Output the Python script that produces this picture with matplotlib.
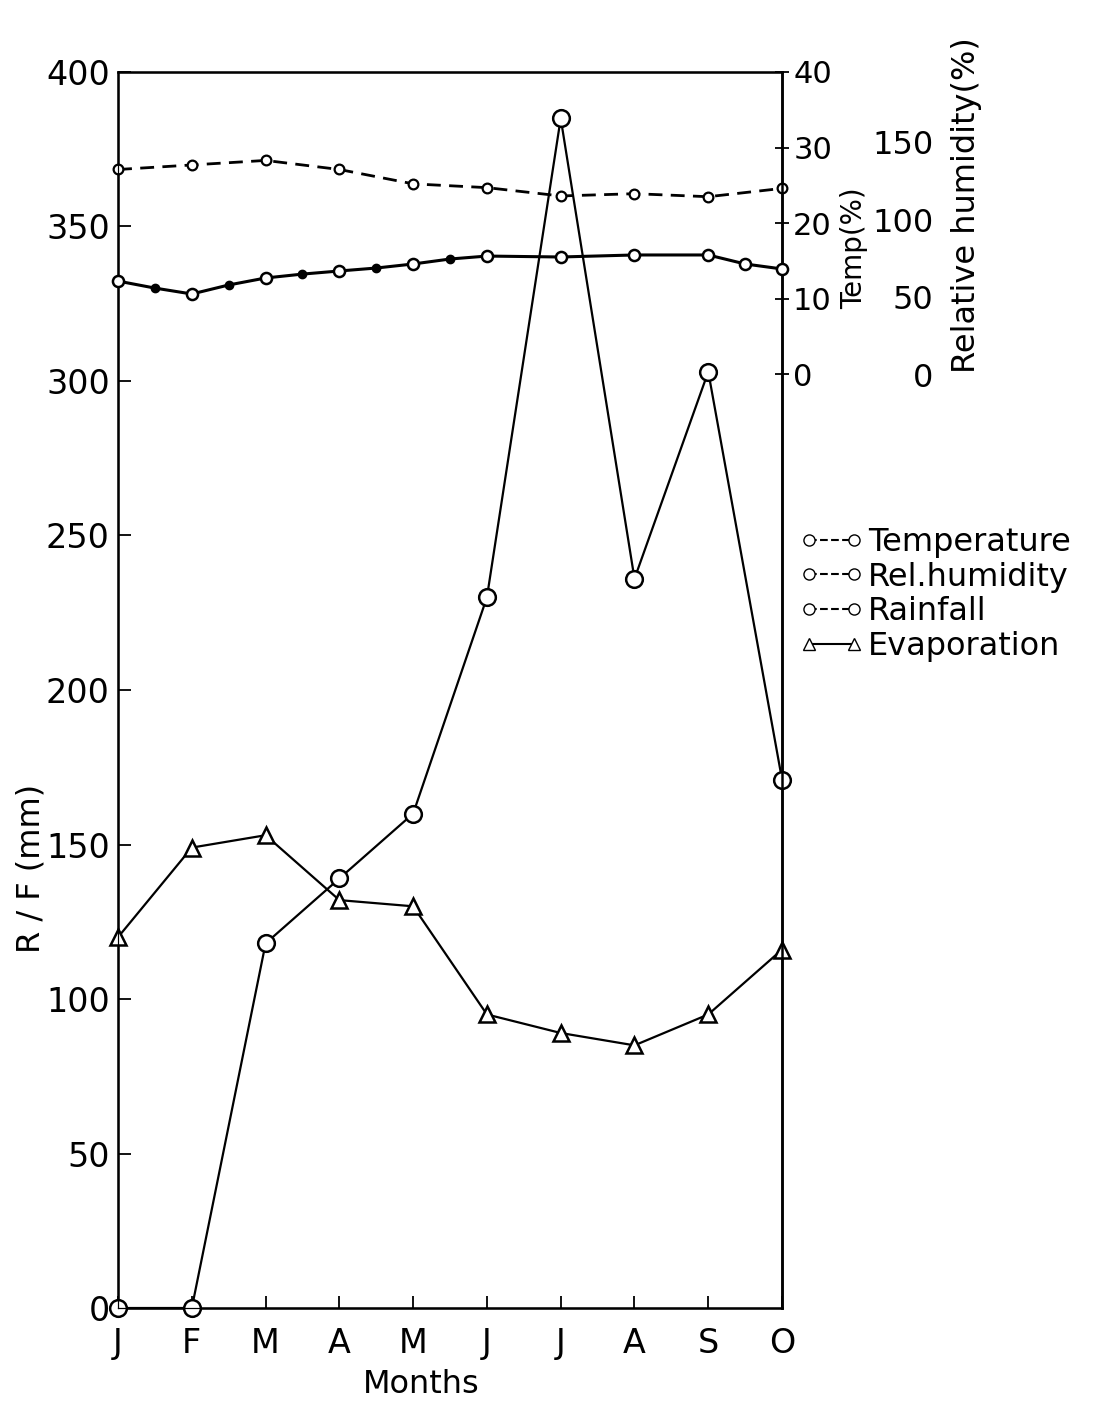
import numpy as np
import matplotlib
matplotlib.use("Agg")
import matplotlib.pyplot as plt
from matplotlib.lines import Line2D

# month labels along the bottom
months = ['J', 'F', 'M', 'A', 'M', 'J', 'J', 'A', 'S', 'O']
month_x = np.arange(len(months))

# rainfall and evaporation (mm)
rainfall = [0, 0, 118, 139, 160, 230, 385, 236, 303, 171]
evaporation = [120, 149, 153, 132, 130, 95, 89, 85, 95, 116]

# temperature (deg) on the right axis
temperature = [27.1, 27.7, 28.3, 27.1, 25.2, 24.7, 23.6, 23.9, 23.5, 24.6]

# relative humidity (%), some half-month readings too
rh_x = [0, 0.5, 1, 1.5, 2, 2.5, 3, 3.5, 4, 4.5, 5, 6, 7, 8, 8.5, 9]
rel_humidity = [60.5, 56.0, 52.2, 58.0, 62.5, 65.0, 67.0, 68.9, 71.5, 74.7,
                76.6, 76.0, 77.3, 77.3, 71.5, 68.3]
rh_filled = [0.5, 1.5, 2.5, 3.5, 4.5]

left_ticks = [0, 50, 100, 150, 200, 250, 300, 350, 400]
temp_ticks = [0, 10, 20, 30, 40]
rh_ticks = [0, 50, 100, 150]

plt.rcParams['font.family'] = ['DejaVu Sans']

fig = plt.figure(figsize=(10.93, 14.03), dpi=100)
ax = fig.add_axes([0.108, 0.0677, 0.6075, 0.881])

# rainfall and evaporation on the main axis
ax.plot(month_x, rainfall, color='black', lw=1.6, marker='o', ms=12,
        mfc='white', mec='black', mew=1.8, clip_on=False, zorder=5)
ax.plot(month_x, evaporation, color='black', lw=1.6, marker='^', ms=12,
        mfc='white', mec='black', mew=1.8, clip_on=False, zorder=5)

ax.set_xlim(0, 9)
ax.set_ylim(0, 400)
ax.set_xticks(month_x)
ax.set_xticklabels(months)
ax.set_yticks(left_ticks)
ax.tick_params(axis='x', direction='in', length=9, width=1.3, pad=14, labelsize=24)
ax.tick_params(axis='y', direction='in', length=9, width=1.3, pad=6, labelsize=24)
for s in ax.spines.values():
    s.set_linewidth(1.8)

# temperature axis on the right spine
ax_t = ax.twinx()
ax_t.plot(month_x, temperature, color='black', lw=2, dashes=(5, 3), marker='o',
          ms=7, mfc='white', mec='black', mew=1.6, clip_on=False)
ax_t.set_ylim(-123.5, 40)
ax_t.set_yticks(temp_ticks)
ax_t.tick_params(axis='y', direction='inout', length=10, width=1.3, pad=3, labelsize=22)
ax_t.spines['right'].set_linewidth(1.8)

# relative humidity axis, labels only
ax_h = ax.twinx()
ax_h.plot(rh_x, rel_humidity, color='black', lw=2.2, zorder=3, clip_on=False)
months_rh = [(x, v) for x, v in zip(rh_x, rel_humidity) if x not in rh_filled]
ax_h.plot([p[0] for p in months_rh], [p[1] for p in months_rh], ls='none', marker='o',
          ms=8, mfc='white', mec='black', mew=1.8, zorder=4, clip_on=False)
half_rh = [(x, v) for x, v in zip(rh_x, rel_humidity) if x in rh_filled]
ax_h.plot([p[0] for p in half_rh], [p[1] for p in half_rh], ls='none', marker='o',
          ms=6, color='black', zorder=4)
ax_h.set_ylim(-600, 195)
ax_h.set_yticks(rh_ticks)
ax_h.spines['right'].set_visible(False)
ax_h.tick_params(axis='y', length=0, pad=109, labelsize=23)
for lab in ax_h.get_yticklabels():
    lab.set_horizontalalignment('right')

# axis titles
fig.text(0.028, 0.381, 'R / F (mm)', rotation=90, fontsize=23, ha='center', va='center')
fig.text(0.385, 0.013, 'Months', fontsize=23, ha='center', va='center')
fig.text(0.781, 0.823, 'Temp(%)', rotation=90, fontsize=20, ha='center', va='center')
fig.text(0.884, 0.854, 'Relative humidity(%)', rotation=90, fontsize=23,
         ha='center', va='center')

# legend
handles = [
    Line2D([], [], color='black', lw=1.5, ls='--', marker='o', ms=8, mfc='white'),
    Line2D([], [], color='black', lw=1.5, ls='--', marker='o', ms=8, mfc='white'),
    Line2D([], [], color='black', lw=1.5, ls='--', marker='o', ms=8, mfc='white'),
    Line2D([], [], color='black', lw=1.5, ls='-', marker='^', ms=9, mfc='white'),
]
labels = ['Temperature', 'Rel.humidity', 'Rainfall', 'Evaporation']
fig.legend(handles, labels, loc='upper left', bbox_to_anchor=(0.705, 0.645),
           frameon=False, fontsize=23, handlelength=2.0, handletextpad=0.15,
           labelspacing=0.12, numpoints=2)

plt.savefig('out.png', dpi=100)
